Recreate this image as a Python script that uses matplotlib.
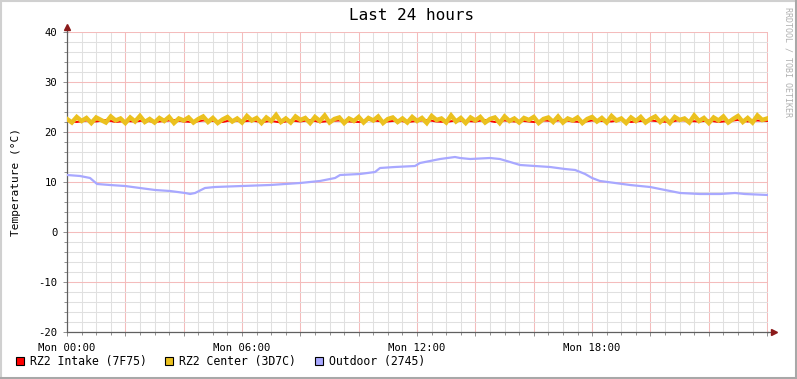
import numpy as np
import matplotlib.pyplot as plt
from matplotlib.ticker import MultipleLocator, FuncFormatter
from matplotlib.patches import Rectangle
from matplotlib.lines import Line2D

# Data (hours since Mon 00:00, temperature in degC)

intake_t = np.arange(0, 24.01, 1 / 3)
intake = [
    22.2, 22.0, 22.3, 22.1, 22.4, 22.0, 22.2, 22.1, 22.3, 22.0, 22.2, 22.4,
    22.1, 22.0, 22.3, 22.2, 22.0, 22.4, 22.1, 22.3, 22.0, 22.2, 21.9, 22.3,
    22.1, 22.4, 22.0, 22.2, 22.3, 22.1, 22.0, 22.4, 22.2, 22.1, 22.3, 22.0,
    22.2, 22.4, 22.1, 22.0, 22.3, 22.2, 22.1, 22.4, 22.0, 22.3, 22.1, 22.2,
    22.0, 22.3, 22.2, 22.4, 22.1, 22.0, 22.3, 22.2, 22.1, 22.4, 22.0, 22.2,
    22.3, 22.1, 22.0, 22.4, 22.2, 22.1, 22.3, 22.0, 22.2, 22.4, 22.1, 22.3,
    22.2,
]

center_t = np.arange(0, 24.01, 1 / 6)
center = [
    22.6, 21.9, 23.0, 22.2, 22.8, 21.8, 22.9, 22.4, 21.9, 23.1, 22.3, 22.7,
    21.8, 22.9, 22.1, 23.2, 22.0, 22.6, 21.9, 22.8, 22.2, 23.0, 21.8, 22.7,
    22.3, 22.9, 21.9, 22.6, 23.1, 22.0, 22.8, 21.8, 22.5, 23.0, 22.1, 22.7,
    21.9, 23.2, 22.3, 22.8, 21.8, 22.9, 22.2, 23.4, 22.0, 22.7, 21.9, 23.1,
    22.4, 22.8, 21.8, 23.0, 22.2, 23.3, 21.9, 22.6, 22.9, 21.8, 22.7, 22.2,
    23.0, 21.9, 22.8, 22.3, 23.1, 21.8, 22.6, 22.9, 22.0, 22.7, 21.9, 23.0,
    22.2, 22.8, 21.8, 23.2, 22.4, 22.7, 21.9, 23.3, 22.1, 22.8, 21.8, 22.9,
    22.3, 23.0, 21.9, 22.6, 22.9, 21.8, 23.1, 22.2, 22.7, 21.9, 22.8, 22.4,
    23.0, 21.8, 22.6, 22.9, 22.0, 23.1, 21.9, 22.7, 22.3, 22.9, 21.8, 22.6,
    23.0, 22.1, 22.8, 21.9, 23.2, 22.3, 22.7, 21.8, 22.9, 22.2, 23.0, 21.9,
    22.6, 23.1, 22.0, 22.8, 21.8, 23.0, 22.4, 22.7, 21.9, 23.3, 22.2, 22.8,
    21.8, 22.9, 22.3, 23.1, 21.9, 22.6, 23.2, 22.0, 22.8, 21.9, 23.3, 22.4,
    22.7,
]

outdoor_t = [
    0.0, 0.45, 0.79, 1.03, 1.47, 1.99, 2.5, 3.02, 3.53, 4.05, 4.22, 4.39,
    4.73, 5.07, 6.0, 6.96, 7.99, 8.67, 9.19, 9.36, 10.04, 10.56, 10.73, 11.24,
    11.93, 12.1, 12.79, 13.3, 13.47, 13.82, 14.5, 14.84, 15.19, 15.53, 16.04,
    16.56, 17.07, 17.42, 17.76, 18.0, 18.27, 18.79, 19.3, 19.99, 20.5, 21.02,
    21.7, 22.39, 22.9, 23.24, 24.03,
]
outdoor = [
    11.4, 11.2, 10.8, 9.6, 9.4, 9.2, 8.8, 8.4, 8.2, 7.8, 7.6, 7.8,
    8.8, 9.0, 9.2, 9.4, 9.8, 10.2, 10.8, 11.4, 11.6, 12.0, 12.8, 13.0,
    13.2, 13.8, 14.6, 15.0, 14.8, 14.6, 14.8, 14.6, 14.0, 13.4, 13.2,
    13.0, 12.6, 12.4, 11.6, 10.8, 10.2, 9.8, 9.4, 9.0, 8.4, 7.8,
    7.6, 7.6, 7.8, 7.6, 7.4,
]

labels = ["RZ2 Intake (7F75)", "RZ2 Center (3D7C)", "Outdoor (2745)"]
colors = ["#ff0000", "#ebc11f", "#a8a8ff"]

mono = "DejaVu Sans Mono"
W, H = 797, 379

fig = plt.figure(figsize=(W / 100, H / 100), dpi=100)
fig.patch.set_facecolor("white")
ax = fig.add_axes([67 / W, (H - 332) / H, 701 / W, 300 / H])

ax.plot(intake_t, intake, color=colors[0], lw=1.4, zorder=3)
ax.plot(center_t, center, color=colors[1], lw=3.2, zorder=4,
        solid_joinstyle="miter")
ax.plot(outdoor_t, outdoor, color=colors[2], lw=1.6, zorder=4)

ax.set_xlim(0, 24.03)
ax.set_ylim(-20, 40)

# grid
ax.xaxis.set_major_locator(MultipleLocator(2))
ax.xaxis.set_minor_locator(MultipleLocator(0.5))
ax.yaxis.set_major_locator(MultipleLocator(10))
ax.yaxis.set_minor_locator(MultipleLocator(2))
ax.xaxis.set_major_formatter(FuncFormatter(
    lambda v, p: f"Mon {int(round(v)):02d}:00" if round(v) % 6 == 0 and v < 24 else ""))
ax.yaxis.set_major_formatter(FuncFormatter(lambda v, p: f"{int(v)}"))
ax.set_axisbelow(True)
ax.grid(which="minor", color="#e0e0e0", lw=0.75)
ax.grid(which="major", color="#f4bcbc", lw=0.75)

for s in ["top", "right"]:
    ax.spines[s].set_visible(False)
for s in ["left", "bottom"]:
    ax.spines[s].set_color("#606060")
    ax.spines[s].set_linewidth(0.9)

ax.tick_params(which="both", direction="out", colors="#909090", labelcolor="black",
               width=0.7, labelsize=7.6)
ax.tick_params(which="major", length=3)
ax.tick_params(which="minor", length=2)
ax.tick_params(axis="y", pad=4)
ax.tick_params(axis="x", pad=5)
for t in ax.get_xticklabels() + ax.get_yticklabels():
    t.set_family(mono)

# axis arrows
ax.add_line(Line2D([1, 1.006], [0, 0], transform=ax.transAxes, color="#606060",
                   lw=0.9, clip_on=False))
ax.add_line(Line2D([0, 0], [1, 1.015], transform=ax.transAxes, color="#606060",
                   lw=0.9, clip_on=False))
ax.plot([1.008], [0], marker=">", ms=4, color="#8b1a1a", transform=ax.transAxes,
        clip_on=False, zorder=6)
ax.plot([0], [1.017], marker="^", ms=4, color="#8b1a1a", transform=ax.transAxes,
        clip_on=False, zorder=6)

# texts
fig.text(412 / W, 1 - 16 / H, "Last 24 hours", ha="center", va="center",
         family=mono, fontsize=11.5)
fig.text(16 / W, 1 - 182 / H, "Temperature (°C)", rotation=90, ha="center",
         va="center", family=mono, fontsize=8)
fig.text(788 / W, 1 - 62 / H, "RRDTOOL / TOBI OETIKER", rotation=270, ha="center",
         va="center", family=mono, fontsize=6, color="#b0b0b0")

# legend
leg_x = [16, 165, 315]
for x0, lab, c in zip(leg_x, labels, colors):
    fig.patches.append(Rectangle((x0 / W, 1 - 365 / H), 8 / W, 8 / H,
                                 transform=fig.transFigure, facecolor=c,
                                 edgecolor="black", lw=0.8))
    fig.text((x0 + 14) / W, 1 - 361 / H, lab, ha="left", va="center",
             family=mono, fontsize=8.3)

# frame
fig.add_artist(Line2D([0, 1], [1 - 1 / H, 1 - 1 / H], transform=fig.transFigure,
                      color="#d0d0d0", lw=1.5))
fig.add_artist(Line2D([1 / W, 1 / W], [0, 1], transform=fig.transFigure,
                      color="#d0d0d0", lw=1.5))
fig.add_artist(Line2D([0, 1], [1.5 / H, 1.5 / H], transform=fig.transFigure,
                      color="#a8a8a8", lw=2.2))
fig.add_artist(Line2D([1 - 1.5 / W, 1 - 1.5 / W], [0, 1], transform=fig.transFigure,
                      color="#a8a8a8", lw=2.2))

fig.savefig("out.png", dpi=100)
